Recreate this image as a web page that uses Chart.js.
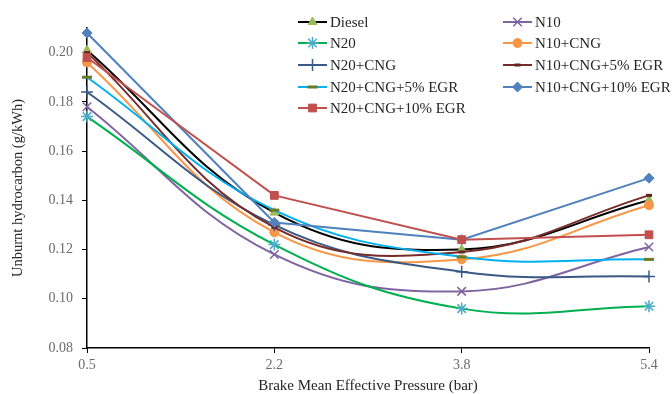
<!DOCTYPE html>
<html>
<head>
<meta charset="utf-8">
<script src="https://cdn.jsdelivr.net/npm/chart.js@4.4.0/dist/chart.umd.min.js"></script>
<style>
  html, body { margin: 0; padding: 0; background: #fff; }
  #wrap { width: 672px; height: 394px; }
</style>
</head>
<body>
<div id="wrap"><canvas id="hcChart" width="672" height="394"></canvas></div>
<script>
// Brake mean effective pressure (bar) - category axis
const bmep = ["0.5", "2.2", "3.8", "5.4"];

// unburnt HC (g/kWh)
const diesel = [0.201, 0.135, 0.120, 0.140];
const n10 = [0.178, 0.118, 0.103, 0.121];
const n20 = [0.174, 0.122, 0.096, 0.097];
const n10Cng = [0.196, 0.127, 0.116, 0.138];
const n20Cng = [0.184, 0.130, 0.111, 0.109];
const n10Cng5 = [0.200, 0.129, 0.119, 0.142];
const n20Cng5 = [0.190, 0.136, 0.117, 0.116];
const n10Cng10 = [0.208, 0.131, 0.124, 0.149];
const n20Cng10 = [0.198, 0.142, 0.124, 0.126];

const yTicks = [0.08, 0.10, 0.12, 0.14, 0.16, 0.18, 0.20];

const serif = "'Liberation Serif', 'Times New Roman', serif";

const series = [
  { label: "Diesel", data: diesel, line: "#000000", style: "triangle", fill: "#9BBB59", stroke: "#9BBB59", r: 5, bw: 1, tension: 0.4 },
  { label: "N10", data: n10, line: "#8064A2", style: "crossRot", fill: "#8064A2", stroke: "#8064A2", r: 6, bw: 1.5, tension: 0.4 },
  { label: "N20", data: n20, line: "#00B050", style: "star", fill: "#4BACC6", stroke: "#4BACC6", r: 6, bw: 1.5, tension: 0.4 },
  { label: "N10+CNG", data: n10Cng, line: "#F79646", style: "circle", fill: "#F79646", stroke: "#F79646", r: 4.5, bw: 1, tension: 0.4 },
  { label: "N20+CNG", data: n20Cng, line: "#3A5A86", style: "cross", fill: "#3A5A86", stroke: "#3A5A86", r: 6, bw: 1.5, tension: 0.4 },
  { label: "N10+CNG+5% EGR", data: n10Cng5, line: "#772C2A", style: "line", fill: "#632523", stroke: "#632523", r: 3, bw: 3, tension: 0.4 },
  { label: "N20+CNG+5% EGR", data: n20Cng5, line: "#00B0F0", style: "line", fill: "#6B7A2A", stroke: "#6B7A2A", r: 5, bw: 3, tension: 0.4 },
  { label: "N10+CNG+10% EGR", data: n10Cng10, line: "#4F81BD", style: "rectRot", fill: "#4F81BD", stroke: "#4F81BD", r: 5, bw: 1, tension: 0 },
  { label: "N20+CNG+10% EGR", data: n20Cng10, line: "#C0504D", style: "rect", fill: "#C0504D", stroke: "#C0504D", r: 5.5, bw: 1, tension: 0 }
];

const datasets = series.map((s, i) => ({
  label: s.label,
  data: s.data,
  borderColor: s.line,
  backgroundColor: s.line,
  borderWidth: 2,
  tension: s.tension,
  pointStyle: s.style,
  pointRadius: s.r,
  pointBackgroundColor: s.fill,
  pointBorderColor: s.stroke,
  pointBorderWidth: s.bw,
  clip: false,
  order: -i
}));

// two-column legend sitting over the plot, like the original
const legendBox = {
  id: "legendBox",
  afterDraw(chart) {
    const ctx = chart.ctx;
    const cols = [298, 503];
    const rows = [22, 43, 65, 87, 108];
    ctx.save();
    series.forEach((s, i) => {
      const x = cols[i % 2];
      const y = rows[Math.floor(i / 2)];
      ctx.strokeStyle = s.line;
      ctx.lineWidth = 2;
      ctx.beginPath();
      ctx.moveTo(x, y);
      ctx.lineTo(x + 29, y);
      ctx.stroke();
      ctx.fillStyle = s.fill;
      ctx.strokeStyle = s.stroke;
      ctx.lineWidth = s.bw;
      Chart.helpers.drawPoint(ctx, { pointStyle: s.style, radius: s.r, rotation: 0, borderWidth: s.bw }, x + 14.5, y);
      ctx.fillStyle = "#262626";
      ctx.font = "15px " + serif;
      ctx.textBaseline = "middle";
      ctx.textAlign = "left";
      ctx.fillText(s.label, x + 32, y + 1);
    });
    ctx.restore();
  }
};

new Chart(document.getElementById("hcChart"), {
  type: "line",
  data: { labels: bmep, datasets },
  plugins: [legendBox],
  options: {
    responsive: false,
    animation: false,
    layout: { padding: { left: 0, right: 23, top: 28, bottom: 0 } },
    plugins: { legend: { display: false }, tooltip: { enabled: false } },
    scales: {
      x: {
        offset: false,
        border: { display: true, color: "#000", width: 1.5 },
        grid: { display: true, drawOnChartArea: false, drawTicks: true, tickLength: 5, color: "#000", lineWidth: 1 },
        ticks: { color: "#6b6b6b", padding: 4, font: { family: serif, size: 14 }, maxRotation: 0 },
        title: { display: true, text: "Brake Mean Effective Pressure (bar)", color: "#262626", font: { family: serif, size: 15 }, padding: { top: 0, bottom: -1 } },
        afterFit(scale) { scale.height = 46; }
      },
      y: {
        min: 0.08,
        max: 0.21,
        border: { display: true, color: "#000", width: 1.5 },
        grid: { display: true, drawOnChartArea: false, drawTicks: true, tickLength: 5, color: "#000", lineWidth: 1 },
        afterBuildTicks(scale) { scale.ticks = yTicks.map(v => ({ value: v })); },
        ticks: { color: "#6b6b6b", padding: 9, font: { family: serif, size: 14 }, callback: v => v.toFixed(2) },
        title: { display: true, text: "Unburnt hydrocarbon (g/kWh)", color: "#262626", font: { family: serif, size: 14.5 }, padding: { top: 9, bottom: 0 } },
        afterFit(scale) { scale.width = 87; }
      }
    }
  }
});
</script>
</body>
</html>
